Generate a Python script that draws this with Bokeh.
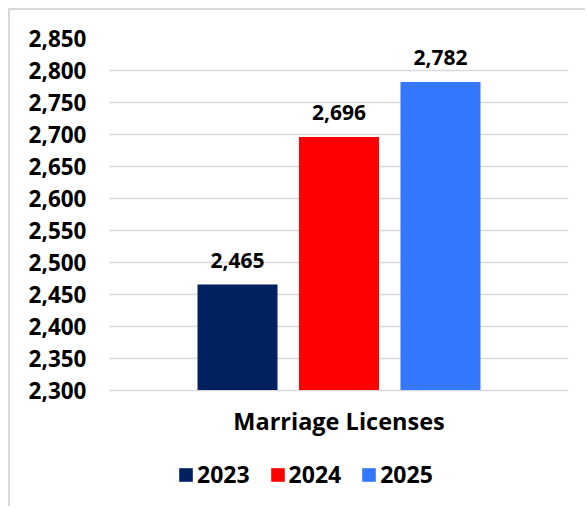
from bokeh.plotting import figure
from bokeh.models import (ColumnDataSource, FactorRange, Range1d, NumeralTickFormatter,
                          FixedTicker, Legend, LegendItem)
from bokeh.transform import dodge
from bokeh.core.properties import value
from bokeh.embed import file_html
from bokeh.resources import INLINE

category = ["Marriage Licenses"]
years = ["2023", "2024", "2025"]
counts = [2465, 2696, 2782]
colors = ["#002060", "#FF0000", "#3377FF"]
y_ticks = [2300, 2350, 2400, 2450, 2500, 2550, 2600, 2650, 2700, 2750, 2800, 2850]

FONT = "Open Sans"

# layout (pixels)
W, H = 577, 498
B_LEFT, B_RIGHT, B_TOP = 99, 19, 28
plot_px = 351.5            # pixel span between lowest and highest tick
below_px = H - B_TOP - plot_px  # space below the value axis kept inside the frame
y_lo, y_hi = min(y_ticks), max(y_ticks)
y_start = y_lo - below_px * (y_hi - y_lo) / plot_px

p = figure(
    width=W, height=H,
    x_range=FactorRange(factors=category, range_padding=0),
    y_range=Range1d(y_start, y_hi),
    output_backend="svg", toolbar_location=None,
    min_border_left=B_LEFT, min_border_right=B_RIGHT, min_border_top=B_TOP, min_border_bottom=0,
)
p.styles = {"margin-left": "10px", "margin-top": "10px", "overflow": "hidden",
            "box-shadow": "-2px -2px 0 0 #d9d9d9"}
p.outline_line_color = None
p.background_fill_color = "white"
p.border_fill_color = "white"

offsets = [-0.2211, 0.0, 0.2211]
bar_w = 0.1743
items = []
for yr, cnt, col, off in zip(years, counts, colors, offsets):
    src = ColumnDataSource(dict(cat=category, v=[cnt], lab=[f"{cnt:,}"]))
    r = p.vbar(x=dodge("cat", off, range=p.x_range), top="v", bottom=y_lo, width=bar_w,
               color=col, line_color=None, source=src)
    items.append(LegendItem(label=yr, renderers=[r]))
    p.text(x=dodge("cat", off, range=p.x_range), y="v", text="lab", source=src,
           text_align="center", text_baseline="alphabetic", y_offset=-24,
           text_font=value(FONT), text_font_style="bold", text_font_size="21px",
           text_color="black")

# category label under the bars
cat_src = ColumnDataSource(dict(cat=category, y=[y_lo]))
p.text(x="cat", y="y", text="cat", source=cat_src, text_align="center",
       text_baseline="alphabetic", y_offset=31,
       text_font=value(FONT), text_font_style="bold", text_font_size="23.5px",
       text_color="black")

# y axis
p.yaxis.ticker = FixedTicker(ticks=y_ticks)
p.yaxis.formatter = NumeralTickFormatter(format="0,0")
p.yaxis.axis_line_color = None
p.yaxis.major_tick_line_color = None
p.yaxis.major_tick_out = 0
p.yaxis.major_tick_in = 0
p.yaxis.minor_tick_line_color = None
p.yaxis.major_label_standoff = 23
p.yaxis.major_label_text_font = FONT
p.yaxis.major_label_text_font_style = "bold"
p.yaxis.major_label_text_font_size = "22.5px"
p.yaxis.major_label_text_color = "black"

p.xaxis.visible = False
p.xgrid.grid_line_color = None
p.ygrid.grid_line_color = "#d9d9d9"
p.ygrid.grid_line_width = 1.5

lg = Legend(items=items, orientation="horizontal", location=(68, 18))
lg.glyph_width = 17
lg.glyph_height = 17
lg.label_standoff = 3
lg.spacing = 19
lg.padding = 0
lg.margin = 0
lg.border_line_color = None
lg.background_fill_alpha = 0
lg.label_text_font = FONT
lg.label_text_font_style = "bold"
lg.label_text_font_size = "23px"
lg.label_text_color = "black"
p.add_layout(lg, "center")

open("out.html", "w").write(file_html(p, INLINE))
